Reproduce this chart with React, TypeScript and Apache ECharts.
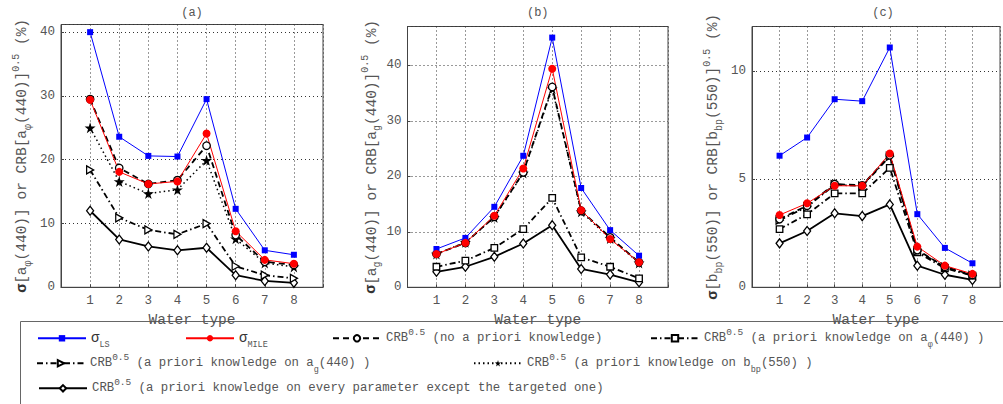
import React, { useEffect, useRef } from 'react';
import * as echarts from 'echarts';

// ---------- data ----------
const waterTypes = [1, 2, 3, 4, 5, 6, 7, 8];

// panel (a): a_phi(440)
const aLS = [40.0, 23.6, 20.6, 20.5, 29.5, 12.3, 5.8, 5.1];
const aMLE = [29.4, 18.1, 16.2, 16.6, 24.1, 8.8, 4.3, 3.7];
const aNone = [29.5, 18.7, 16.2, 16.8, 22.2, 8.2, 4.0, 3.5];
const aBbp = [25.0, 16.6, 14.7, 15.3, 19.9, 7.6, 3.8, 3.2];
const aAg = [18.4, 10.9, 9.0, 8.3, 10.0, 3.3, 1.9, 1.4];
const aAll = [12.0, 7.5, 6.4, 5.8, 6.2, 1.9, 1.0, 0.7];

// panel (b): a_g(440)
const bLS = [6.9, 8.9, 14.5, 23.7, 45.0, 17.9, 10.3, 5.7];
const bMLE = [6.0, 8.0, 12.9, 21.4, 39.4, 13.9, 8.7, 4.5];
const bNone = [6.0, 8.0, 12.7, 20.7, 36.1, 13.8, 9.0, 4.5];
const bBbp = [6.0, 8.1, 12.6, 20.6, 35.8, 13.6, 8.8, 4.4];
const bAphi = [3.7, 4.8, 7.1, 10.5, 16.1, 5.4, 3.7, 1.6];
const bAll = [2.8, 3.7, 5.5, 7.9, 11.2, 3.3, 2.3, 0.9];

// panel (c): b_bp(550)
const cLS = [6.08, 6.92, 8.69, 8.6, 11.08, 3.38, 1.82, 1.11];
const cMLE = [3.34, 3.88, 4.69, 4.69, 6.18, 1.88, 1.0, 0.62];
const cNone = [3.15, 3.77, 4.77, 4.71, 6.1, 1.72, 0.95, 0.57];
const cAg = [3.1, 3.72, 4.74, 4.68, 6.05, 1.68, 0.93, 0.55];
const cAphi = [2.69, 3.37, 4.34, 4.34, 5.52, 1.62, 0.88, 0.54];
const cAll = [2.03, 2.6, 3.42, 3.29, 3.83, 1.0, 0.58, 0.34];

const panelTitles = ['(a)', '(b)', '(c)'];
const xAxisName = 'Water type';
const yAxisNames = [
  '{s|σ}[a{sub|φ}(440)] or CRB[a{sub|φ}(440)]{sup|0.5} (%)',
  '{s|σ}[a{sub|g}(440)] or CRB[a{sub|g}(440)]{sup|0.5} (%)',
  '{s|σ}[b{sub|bp}(550)] or CRB[b{sub|bp}(550)]{sup|0.5} (%)',
];
const yMax = [41.2, 47, 12.05];
const yInterval = [10, 10, 5];

const N = {
  ls: 'sigmaLS',
  mle: 'sigmaMILE',
  none: 'crbNone',
  aphi: 'crbAphi',
  ag: 'crbAg',
  bbp: 'crbBbp',
  all: 'crbAll',
};

const legendLabels: Record<string, string> = {
  [N.ls]: '{s|σ}{sub2|LS}',
  [N.mle]: '{s|σ}{sub2|MILE}',
  [N.none]: 'CRB{sup|0.5} (no a priori knowledge)',
  [N.aphi]: 'CRB{sup|0.5} (a priori knowledge on a{sub|φ}(440) )',
  [N.ag]: 'CRB{sup|0.5} (a priori knowledge on a{sub|g}(440) )',
  [N.bbp]: 'CRB{sup|0.5} (a priori knowledge on b{sub|bp}(550) )',
  [N.all]: 'CRB{sup|0.5} (a priori knowledge on every parameter except the targeted one)',
};

// series per panel (drawing order: black CRB curves first, then blue, red)
const panelSeries: [string, number[]][][] = [
  [[N.all, aAll], [N.ag, aAg], [N.bbp, aBbp], [N.none, aNone], [N.ls, aLS], [N.mle, aMLE]],
  [[N.all, bAll], [N.aphi, bAphi], [N.bbp, bBbp], [N.none, bNone], [N.ls, bLS], [N.mle, bMLE]],
  [[N.all, cAll], [N.aphi, cAphi], [N.ag, cAg], [N.none, cNone], [N.ls, cLS], [N.mle, cMLE]],
];

// ---------- styles ----------
const FONT = '"Liberation Mono", "DejaVu Sans Mono", monospace';
const TXT = '#555';
const TRI = 'path://M0,0 L100,50 L0,100 Z';
const STAR = 'path://M50,0 L61,35 L98,35 L68,57 L79,91 L50,70 L21,91 L32,57 L2,35 L39,35 Z';
const DASH = [6, 4];
const DASHDOT = [6, 3, 1.5, 3];
const DOT = [1.5, 3];

const STY: Record<string, any> = {
  [N.ls]: { color: '#0000ff', fill: '#0000ff', symbol: 'rect', size: 6, type: 'solid', width: 1 },
  [N.mle]: { color: '#ff0000', fill: '#ff0000', symbol: 'circle', size: 8, type: 'solid', width: 1 },
  [N.none]: { color: '#000', fill: '#fff', symbol: 'circle', size: 7.5, type: DASH, width: 1.8 },
  [N.aphi]: { color: '#000', fill: '#fff', symbol: 'rect', size: 6.5, type: DASHDOT, width: 1.8 },
  [N.ag]: { color: '#000', fill: '#fff', symbol: TRI, size: [7, 8], type: DASHDOT, width: 1.8 },
  [N.bbp]: { color: '#000', fill: '#000', symbol: STAR, size: 11, type: DOT, width: 1.5 },
  [N.all]: { color: '#000', fill: '#fff', symbol: 'diamond', size: [7, 9], type: 'solid', width: 1.8 },
};

const grids = [
  { left: 61, top: 24.5, width: 262, height: 262.8 },
  { left: 407.5, top: 26.5, width: 260.5, height: 260.8 },
  { left: 752, top: 26.5, width: 262, height: 260.8 },
];
const nameGaps = [28, 23, 28];

const legendPos: { name: string; left: number; row: number }[] = [
  { name: N.ls, left: 37, row: 0 },
  { name: N.mle, left: 185, row: 0 },
  { name: N.none, left: 332, row: 0 },
  { name: N.aphi, left: 650, row: 0 },
  { name: N.ag, left: 36, row: 1 },
  { name: N.bbp, left: 473, row: 1 },
  { name: N.all, left: 38, row: 2 },
];
const rowCenters = [338.3, 363.3, 388.3];

export default function App() {
  const ref = useRef<HTMLDivElement>(null);
  useEffect(() => {
    if (!ref.current) return;
    const chart = echarts.init(ref.current, undefined, { renderer: 'svg' });

    const nameRich = {
      s: { fontSize: 15, fontWeight: 'bold', fontFamily: FONT, color: '#333', lineHeight: 22 },
      sub: { fontSize: 10, fontFamily: FONT, color: TXT, verticalAlign: 'bottom', lineHeight: 9 },
      sup: { fontSize: 10, fontFamily: FONT, color: TXT, verticalAlign: 'top', lineHeight: 9 },
    };

    const xAxis = grids.map((_, i) => ({
      type: 'value',
      gridIndex: i,
      min: 0,
      max: 9,
      interval: 1,
      name: xAxisName,
      nameLocation: 'middle',
      nameGap: 17.5,
      nameTextStyle: { fontFamily: FONT, fontSize: 14.5, color: TXT },
      axisLine: { show: true, onZero: false, lineStyle: { color: '#444', width: 1 } },
      axisTick: { show: true, inside: true, length: 3, lineStyle: { color: '#444' } },
      axisLabel: {
        margin: 7,
        fontFamily: FONT,
        fontSize: 12.5,
        color: TXT,
        formatter: (v: number) => (v >= 1 && v <= 8 ? String(v) : ''),
      },
      splitLine: { show: true, lineStyle: { color: '#333', type: [1, 3], width: 1 } },
    }));

    const yAxis = grids.map((_, i) => ({
      type: 'value',
      gridIndex: i,
      min: 0,
      max: yMax[i],
      interval: yInterval[i],
      name: yAxisNames[i],
      nameLocation: 'middle',
      nameGap: nameGaps[i],
      nameTextStyle: { fontFamily: FONT, fontSize: 14.5, color: TXT, lineHeight: 22, rich: nameRich },
      axisLine: { show: true, lineStyle: { color: '#444', width: 1 } },
      axisTick: { show: true, inside: true, length: 3, lineStyle: { color: '#444' } },
      axisLabel: {
        margin: 6,
        fontFamily: FONT,
        fontSize: 12.5,
        color: TXT,
        formatter: (v: number) => (Math.abs(v / yInterval[i] - Math.round(v / yInterval[i])) < 1e-9 ? String(v) : ''),
      },
      splitLine: { show: true, lineStyle: { color: '#333', type: [1, 3], width: 1 } },
    }));

    const series: any[] = [];
    panelSeries.forEach((list, i) => {
      list.forEach(([name, vals]) => {
        const st = STY[name];
        series.push({
          type: 'line',
          name,
          xAxisIndex: i,
          yAxisIndex: i,
          data: waterTypes.map((w, j) => [w, vals[j]]),
          symbol: st.symbol,
          symbolSize: st.size,
          showAllSymbol: true,
          lineStyle: { color: st.color, width: st.width, type: st.type },
          itemStyle: { color: st.fill, borderColor: st.color, borderWidth: st.fill === st.color ? 0 : 1.3 },
          emphasis: { disabled: true },
          z: 3,
        });
      });
    });

    const legend = legendPos.map((it) => ({
      data: [it.name],
      left: it.left,
      top: rowCenters[it.row] - 11,
      padding: 0,
      itemWidth: 48,
      itemHeight: 8,
      selectedMode: false,
      formatter: legendLabels[it.name],
      textStyle: {
        fontFamily: FONT,
        fontSize: 12.3,
        color: TXT,
        lineHeight: 22,
        rich: {
          s: { fontSize: 14, fontFamily: FONT, color: '#333', lineHeight: 22 },
          sub: { fontSize: 8.5, fontFamily: FONT, color: TXT, verticalAlign: 'bottom', lineHeight: 10 },
          sub2: { fontSize: 8.5, fontFamily: FONT, color: TXT, verticalAlign: 'bottom', lineHeight: 6 },
          sup: { fontSize: 9.5, fontFamily: FONT, color: TXT, verticalAlign: 'top', lineHeight: 12 },
        },
      },
    }));

    const graphic: any[] = [
      {
        type: 'rect',
        z: 0,
        shape: { x: 20.5, y: 321.5, width: 1100, height: 200 },
        style: { fill: '#fff', stroke: '#666', lineWidth: 1 },
        silent: true,
      },
      ...grids.map((g, i) => ({
        type: 'text',
        x: g.left + g.width / 2,
        y: 13,
        silent: true,
        style: {
          text: panelTitles[i],
          align: 'center',
          verticalAlign: 'middle',
          fontFamily: FONT,
          fontSize: 12,
          fill: TXT,
        },
      })),
    ];

    chart.setOption({
      animation: false,
      backgroundColor: '#fff',
      grid: grids.map((g) => ({
        ...g,
        show: true,
        borderColor: '#444',
        borderWidth: 1,
        backgroundColor: '#fff',
        containLabel: false,
      })),
      xAxis,
      yAxis,
      series,
      legend,
      graphic,
    });
    return () => chart.dispose();
  }, []);

  return (
    <div
      ref={ref}
      style={{ position: 'absolute', left: 0, top: 0, width: 1003, height: 404, overflow: 'hidden' }}
    />
  );
}
